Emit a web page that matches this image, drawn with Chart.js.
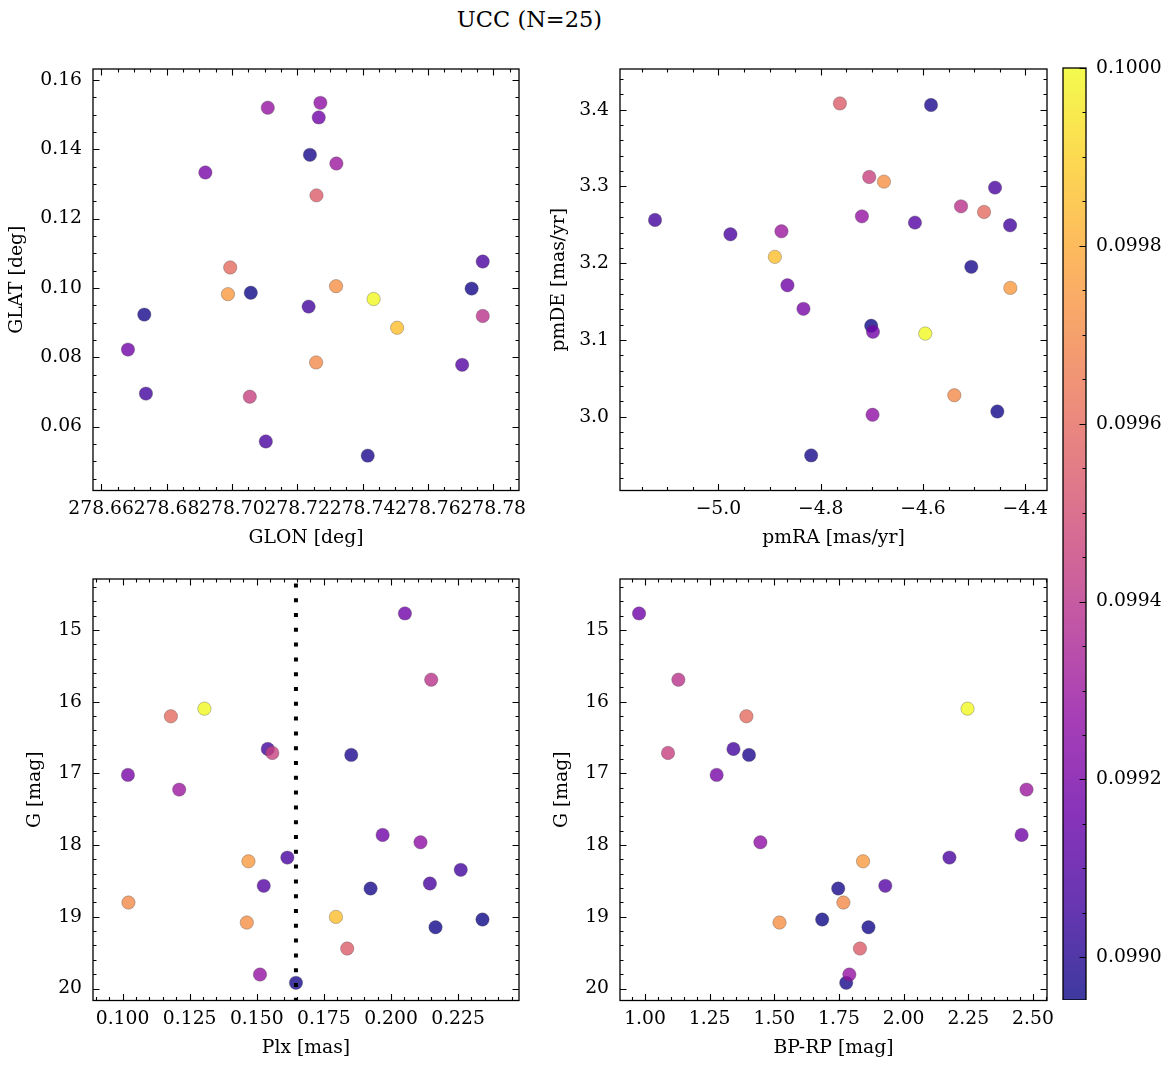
<!DOCTYPE html>
<html>
<head>
<meta charset="utf-8">
<script src="https://cdn.jsdelivr.net/npm/chart.js@4.4.1/dist/chart.umd.min.js"></script>
<style>
body { margin: 0; background: #fff; }
#wrap { position: relative; width: 1173px; height: 1068px; }
canvas { position: absolute; }
#title { position: absolute; left: 0; width: 1059px; top: 6px; line-height: 27px; text-align: center;
         font-family: "DejaVu Serif", serif; font-size: 22.5px; color: #000; }
</style>
</head>
<body>
<div id="wrap">
  <div id="title">UCC (N=25)</div>
  <canvas id="c1" width="530" height="489" style="left:0;top:60px"></canvas>
  <canvas id="c2" width="527" height="489" style="left:530px;top:60px"></canvas>
  <canvas id="c3" width="530" height="489" style="left:0;top:570px"></canvas>
  <canvas id="c4" width="527" height="489" style="left:530px;top:570px"></canvas>
  <canvas id="cb" width="123" height="950" style="left:1050px;top:50px"></canvas>
</div>
<script>
// 25 membres, même ordre dans tous les tableaux
const prob = [0.09918, 0.09940, 0.10000, 0.09960, 0.09906, 0.09945, 0.09898, 0.09920, 0.09930, 0.09918,
              0.09926, 0.09975, 0.09908, 0.09910, 0.09906, 0.09908, 0.09897, 0.09970, 0.09972, 0.09985,
              0.09895, 0.09896, 0.09955, 0.09928, 0.09897];
const glon = [278.7266, 278.7768, 278.7434, 278.6995, 278.7235, 278.7055, 278.7416, 278.6919, 278.7320, 278.6682,
              278.7271, 278.6988, 278.7768, 278.7705, 278.6737, 278.7104, 278.7239, 278.7258, 278.7319, 278.7506,
              278.7058, 278.7734, 278.7259, 278.7110, 278.6732];
const glat = [0.1492, 0.0919, 0.0968, 0.1059, 0.0946, 0.0686, 0.0516, 0.1333, 0.1359, 0.0822,
              0.1534, 0.0982, 0.1076, 0.0778, 0.0695, 0.0557, 0.1384, 0.0785, 0.1005, 0.0885,
              0.0986, 0.0998, 0.1267, 0.1520, 0.0923];
const pmra = [-4.865, -4.5256, -4.5955, -4.4806, -5.1239, -4.7051, -4.5843, -4.8337, -4.8767, -4.6978,
              -4.6986, -4.4292, -4.4591, -4.6157, -4.4297, -4.9765, -4.5055, -4.5387, -4.6763, -4.8896,
              -4.7012, -4.4546, -4.7624, -4.7194, -4.8186];
const pmde = [3.1713, 3.2741, 3.1084, 3.2668, 3.2564, 3.3124, 3.4061, 3.1406, 3.2416, 3.1107,
              3.0026, 3.1679, 3.2985, 3.2529, 3.2494, 3.2377, 3.1953, 3.0281, 3.3063, 3.2083,
              3.1185, 3.0069, 3.4082, 3.2611, 2.9497];
const plx = [0.2052, 0.2150, 0.1305, 0.1180, 0.1541, 0.1558, 0.1852, 0.1020, 0.1211, 0.1969,
             0.2110, 0.1469, 0.1614, 0.1526, 0.2260, 0.2145, 0.1924, 0.1022, 0.1463, 0.1795,
             0.2341, 0.2166, 0.1837, 0.1512, 0.1646];
const gmag = [14.769, 15.693, 16.097, 16.204, 16.659, 16.715, 16.742, 17.021, 17.226, 17.858,
              17.961, 18.226, 18.174, 18.568, 18.345, 18.536, 18.606, 18.801, 19.080, 19.001,
              19.038, 19.146, 19.442, 19.805, 19.921];
const bprp = [0.977, 1.129, 2.247, 1.392, 1.342, 1.089, 1.402, 1.277, 2.475, 2.456,
              1.446, 1.843, 2.177, 1.929, null, null, 1.747, 1.767, 1.520, null,
              1.685, 1.864, 1.831, 1.790, 1.778];
const plxLine = 0.1646; // ligne pointillée verticale

const glonTicks = [278.66, 278.68, 278.70, 278.72, 278.74, 278.76, 278.78];
const glatTicks = [0.06, 0.08, 0.10, 0.12, 0.14, 0.16];
const pmraTicks = [-5.0, -4.8, -4.6, -4.4];
const pmdeTicks = [3.0, 3.1, 3.2, 3.3, 3.4];
const plxTicks = [0.100, 0.125, 0.150, 0.175, 0.200, 0.225];
const gTicks = [15, 16, 17, 18, 19, 20];
const bprpTicks = [1.00, 1.25, 1.50, 1.75, 2.00, 2.25, 2.50];
const cbarTicks = [0.0990, 0.0992, 0.0994, 0.0996, 0.0998, 0.1000];

const VMIN = 0.098952, VMAX = 0.1000;
const ALPHA = 0.8;

// palette plasma (matplotlib), 11 points
const plasma = ["#0d0887", "#41049d", "#6a00a8", "#8f0da4", "#b12a90", "#cc4778",
                "#e16462", "#f2844b", "#fca636", "#fcce25", "#f0f921"];
function hex(h) {
    return [1, 3, 5].map(k => parseInt(h.slice(k, k + 2), 16));
}
function cmapT(t, a) {
    t = Math.max(0, Math.min(1, t));
    const f = t * (plasma.length - 1);
    const i = Math.min(Math.floor(f), plasma.length - 2);
    const w = f - i;
    const c0 = hex(plasma[i]), c1 = hex(plasma[i + 1]);
    const c = c0.map((x, k) => Math.round(x + (c1[k] - x) * w));
    return `rgba(${c[0]},${c[1]},${c[2]},${a})`;
}
const cmap = v => cmapT((v - VMIN) / (VMAX - VMIN), ALPHA);

// les plus probables dessinés en dernier
const order = prob.map((p, i) => i).sort((a, b) => prob[a] - prob[b]);

Chart.defaults.font.family = "'DejaVu Serif', serif";
Chart.defaults.font.size = 18.75;
Chart.defaults.color = "#000";

// cadre + graduations vers l'intérieur, sur les quatre côtés
const frameTicks = {
    id: "frameTicks",
    afterDatasetsDraw(chart, args, opts) {
        const {ctx, chartArea: a} = chart;
        ctx.save();
        ctx.strokeStyle = "#000";
        ctx.lineWidth = 1.1;
        for (const key of ["x", "y"]) {
            const s = chart.scales[key];
            if (!s || !s.options.display) continue;
            const marks = s.ticks.map(t => [t.value, 6.5]);
            const step = opts[key];
            if (step) {
                const lo = Math.min(s.min, s.max), hi = Math.max(s.min, s.max);
                for (let k = Math.ceil(lo / step - 1e-6); k <= Math.floor(hi / step + 1e-6); k++) {
                    marks.push([k * step, 3.5]);
                }
            }
            ctx.beginPath();
            for (const [v, len] of marks) {
                const p = Math.round(s.getPixelForValue(v)) + 0.5;
                if (key === "x") {
                    ctx.moveTo(p, a.bottom); ctx.lineTo(p, a.bottom - len);
                    ctx.moveTo(p, a.top); ctx.lineTo(p, a.top + len);
                } else {
                    if (opts.sides !== "right") { ctx.moveTo(a.left, p); ctx.lineTo(a.left + len, p); }
                    ctx.moveTo(a.right, p); ctx.lineTo(a.right - len, p);
                }
            }
            ctx.stroke();
        }
        ctx.lineWidth = 1.3;
        ctx.strokeRect(a.left, a.top, a.right - a.left, a.bottom - a.top);
        ctx.restore();
    }
};

// dégradé de la barre de couleur
const colorbarFill = {
    id: "colorbarFill",
    beforeDatasetsDraw(chart) {
        const {ctx, chartArea: a} = chart;
        const g = ctx.createLinearGradient(0, a.bottom, 0, a.top);
        for (let i = 0; i <= 20; i++) g.addColorStop(i / 20, cmapT(i / 20, ALPHA));
        ctx.save();
        ctx.fillStyle = g;
        ctx.fillRect(a.left, a.top, a.right - a.left, a.bottom - a.top);
        ctx.restore();
    }
};

function axis(min, max, ticks, fmt, label) {
    return {
        type: "linear", min: min, max: max,
        afterBuildTicks: s => { s.ticks = ticks.map(v => ({value: v})); },
        grid: {display: false, drawTicks: false},
        border: {display: false},
        ticks: {autoSkip: false, maxRotation: 0, minRotation: 0, padding: 7, callback: fmt},
        title: {display: true, text: label, padding: {top: 0, bottom: 0}},
    };
}
function xAxis(min, max, ticks, fmt, label) {
    const a = axis(min, max, ticks, fmt, label);
    a.afterFit = s => { s.height = 58.5; s.paddingLeft = 0; s.paddingRight = 0; };
    return a;
}
function yAxis(min, max, ticks, fmt, label, width, titlePad, reverse) {
    const a = axis(min, max, ticks, fmt, label);
    a.ticks.padding = 11;
    a.reverse = !!reverse;
    a.title.padding = {top: titlePad, bottom: 0};
    a.afterFit = s => { s.width = width; s.paddingTop = 0; s.paddingBottom = 0; };
    return a;
}

const minus = v => (v < 0 ? "\u2212" : "") + Math.abs(v).toFixed(1);

function panel(id, xs, ys, xScale, yScale, minor, rightPad, extra) {
    const idx = order.filter(i => xs[i] != null && ys[i] != null);
    const datasets = [{
        data: idx.map(i => ({x: xs[i], y: ys[i]})),
        backgroundColor: idx.map(i => cmap(prob[i])),
        borderColor: "rgba(70,70,70,0.55)",
        borderWidth: 0.6,
        pointRadius: 6.7,
        order: 1,
    }];
    if (extra) datasets.push(extra);
    return new Chart(document.getElementById(id), {
        type: "scatter",
        data: {datasets: datasets},
        options: {
            responsive: false,
            animation: false,
            layout: {padding: {left: 0, right: rightPad, top: 9, bottom: 0}, autoPadding: false},
            plugins: {legend: {display: false}, tooltip: {enabled: false}, frameTicks: minor},
            scales: {x: xScale, y: yScale},
        },
        plugins: [frameTicks],
    });
}

panel("c1", glon, glat,
    xAxis(278.6575, 278.7879, glonTicks, v => v.toFixed(2), "GLON [deg]"),
    yAxis(0.04154, 0.16317, glatTicks, v => v.toFixed(2), "GLAT [deg]", 93, 6.2),
    {x: 0.005, y: 0.005}, 11);

panel("c2", pmra, pmde,
    xAxis(-5.1924, -4.3575, pmraTicks, minus, "pmRA [mas/yr]"),
    yAxis(2.904, 3.453, pmdeTicks, v => v.toFixed(1), "pmDE [mas/yr]", 90, 17.7),
    {x: 0.05, y: 0.02}, 10);

panel("c3", plx, gmag,
    xAxis(0.08899, 0.2477, plxTicks, v => v.toFixed(3), "Plx [mas]"),
    yAxis(14.289, 20.167, gTicks, v => v.toFixed(0), "G [mag]", 93, 23.7, true),
    {x: 0.005, y: 0.2}, 11,
    {
        data: [{x: plxLine, y: 14.289}, {x: plxLine, y: 20.167}],
        showLine: true, borderColor: "#000", borderWidth: 4,
        borderDash: [4, 10.8], borderDashOffset: -4.4, borderCapStyle: "butt",
        pointRadius: 0, order: 0,
    });

panel("c4", bprp, gmag,
    xAxis(0.9033, 2.5542, bprpTicks, v => v.toFixed(2), "BP-RP [mag]"),
    yAxis(14.289, 20.167, gTicks, v => v.toFixed(0), "G [mag]", 90, 21, true),
    {x: 0.05, y: 0.2}, 10);

// barre de couleur
new Chart(document.getElementById("cb"), {
    type: "scatter",
    data: {datasets: []},
    options: {
        responsive: false,
        animation: false,
        layout: {padding: {left: 13, right: 0, top: 18, bottom: 0}, autoPadding: false},
        plugins: {legend: {display: false}, tooltip: {enabled: false},
                  frameTicks: {y: 0.00005, sides: "right"}},
        scales: {
            x: {display: false, min: 0, max: 1},
            y: {
                type: "linear", position: "right", min: VMIN, max: VMAX,
                afterBuildTicks: s => { s.ticks = cbarTicks.map(v => ({value: v})); },
                afterFit: s => { s.width = 87; s.paddingTop = 0; s.paddingBottom = 0; },
                grid: {display: false, drawTicks: false},
                border: {display: false},
                ticks: {padding: 10, autoSkip: false, callback: v => v.toFixed(4)},
            },
        },
    },
    plugins: [colorbarFill, frameTicks],
});
</script>
</body>
</html>
